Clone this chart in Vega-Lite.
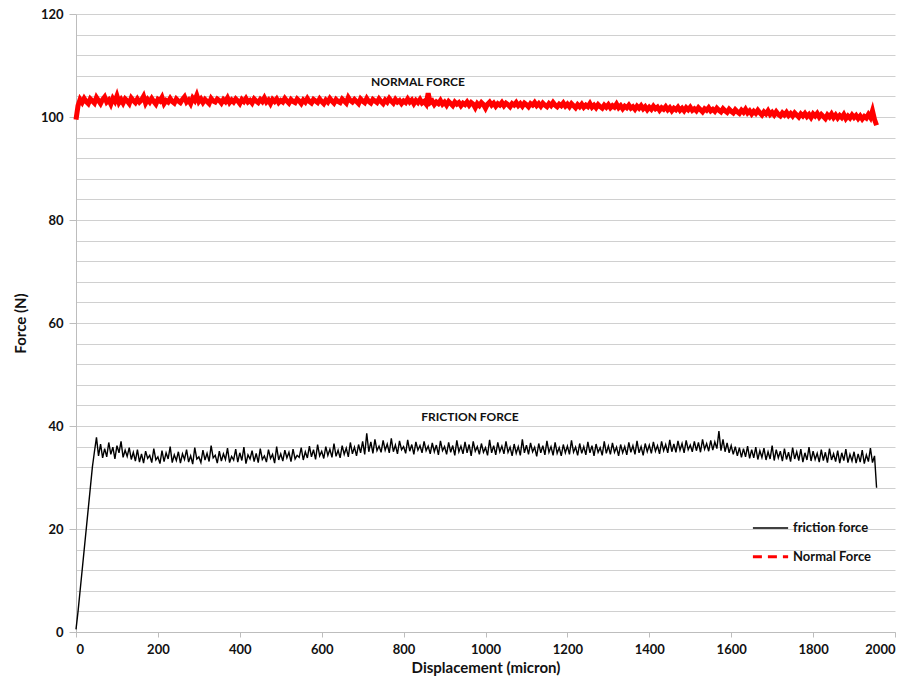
{
 "$schema": "https://vega.github.io/schema/vega-lite/v6.json",
 "width": 819, "height": 618,
 "autosize": {"type": "none"},
 "padding": {"left": 76, "top": 14, "right": 20, "bottom": 60},
 "background": "white",
 "config": {"view": {"stroke": null}, "font": "Lato"},
 "datasets": {
  "series": [
{"x":0,"f":0.5,"n":99.5},{"x":5,"f":4,"n":102.2},{"x":10,"f":8,"n":103.4},{"x":15,"f":12,"n":102.8},{"x":20,"f":16,"n":103.6},{"x":25,"f":20,"n":103.0},{"x":30,"f":24,"n":102.6},{"x":35,"f":28,"n":103.5},{"x":40,"f":32,"n":103.1},{"x":45,"f":35,"n":102.7},
{"x":50,"f":37.8,"n":103.8},{"x":55,"f":34.2,"n":103.2},{"x":60,"f":36.5,"n":102.6},{"x":65,"f":33.8,"n":103.4},{"x":70,"f":35.6,"n":103.9},{"x":75,"f":34.0,"n":102.9},{"x":80,"f":36.8,"n":103.3},{"x":85,"f":34.5,"n":102.5},{"x":90,"f":35.9,"n":103.6},{"x":95,"f":33.6,"n":103.0},
{"x":100,"f":36.2,"n":104.1},{"x":105,"f":34.8,"n":102.8},{"x":110,"f":37.0,"n":103.4},{"x":115,"f":33.9,"n":102.7},{"x":120,"f":35.3,"n":103.5},{"x":125,"f":34.1,"n":103.1},{"x":130,"f":35.8,"n":102.6},{"x":135,"f":33.5,"n":103.7},{"x":140,"f":34.9,"n":103.2},{"x":145,"f":33.2,"n":102.8},
{"x":150,"f":35.4,"n":103.5},{"x":155,"f":33.0,"n":102.9},{"x":160,"f":34.6,"n":103.3},{"x":165,"f":32.8,"n":104.0},{"x":170,"f":35.1,"n":102.7},{"x":175,"f":33.7,"n":103.4},{"x":180,"f":34.3,"n":102.9},{"x":185,"f":32.9,"n":103.6},{"x":190,"f":35.6,"n":103.0},{"x":195,"f":33.4,"n":102.5},
{"x":200,"f":34.0,"n":103.4},{"x":205,"f":32.7,"n":103.1},{"x":210,"f":35.2,"n":103.8},{"x":215,"f":33.1,"n":102.6},{"x":220,"f":34.8,"n":103.2},{"x":225,"f":33.6,"n":102.9},{"x":230,"f":36.0,"n":103.6},{"x":235,"f":32.9,"n":103.0},{"x":240,"f":34.4,"n":102.7},{"x":245,"f":33.3,"n":103.5},
{"x":250,"f":35.0,"n":103.1},{"x":255,"f":32.8,"n":102.8},{"x":260,"f":34.6,"n":103.4},{"x":265,"f":33.5,"n":103.9},{"x":270,"f":35.4,"n":102.9},{"x":275,"f":33.0,"n":103.3},{"x":280,"f":34.2,"n":102.6},{"x":285,"f":32.6,"n":103.7},{"x":290,"f":35.8,"n":103.2},{"x":295,"f":33.6,"n":104.2},
{"x":300,"f":34.0,"n":103.0},{"x":305,"f":32.9,"n":103.5},{"x":310,"f":35.3,"n":102.8},{"x":315,"f":33.4,"n":103.4},{"x":320,"f":34.7,"n":103.0},{"x":325,"f":33.1,"n":102.6},{"x":330,"f":36.2,"n":103.6},{"x":335,"f":33.8,"n":103.1},{"x":340,"f":34.3,"n":102.9},{"x":345,"f":32.8,"n":103.5},
{"x":350,"f":35.1,"n":103.2},{"x":355,"f":33.2,"n":102.7},{"x":360,"f":34.6,"n":103.4},{"x":365,"f":33.5,"n":103.0},{"x":370,"f":35.7,"n":103.7},{"x":375,"f":32.9,"n":102.8},{"x":380,"f":34.1,"n":103.3},{"x":385,"f":33.4,"n":102.9},{"x":390,"f":35.5,"n":103.5},{"x":395,"f":33.0,"n":103.1},
{"x":400,"f":34.8,"n":102.6},{"x":405,"f":33.3,"n":103.4},{"x":410,"f":35.9,"n":103.0},{"x":415,"f":32.7,"n":103.6},{"x":420,"f":34.4,"n":102.9},{"x":425,"f":33.6,"n":103.2},{"x":430,"f":35.2,"n":102.7},{"x":435,"f":33.1,"n":103.5},{"x":440,"f":34.7,"n":103.1},{"x":445,"f":32.9,"n":102.8},
{"x":450,"f":35.6,"n":103.4},{"x":455,"f":33.5,"n":103.0},{"x":460,"f":34.2,"n":103.7},{"x":465,"f":33.0,"n":102.9},{"x":470,"f":35.4,"n":103.3},{"x":475,"f":33.7,"n":102.6},{"x":480,"f":34.5,"n":103.4},{"x":485,"f":32.8,"n":103.0},{"x":490,"f":36.0,"n":103.5},{"x":495,"f":33.4,"n":102.8},
{"x":500,"f":34.6,"n":103.2},{"x":505,"f":33.2,"n":102.9},{"x":510,"f":35.3,"n":103.6},{"x":515,"f":33.8,"n":103.1},{"x":520,"f":34.9,"n":102.7},{"x":525,"f":33.1,"n":103.4},{"x":530,"f":35.5,"n":103.0},{"x":535,"f":33.6,"n":102.8},{"x":540,"f":34.3,"n":103.5},{"x":545,"f":33.9,"n":103.1},
{"x":550,"f":35.8,"n":102.6},{"x":555,"f":33.4,"n":103.3},{"x":560,"f":35.0,"n":102.9},{"x":565,"f":33.8,"n":103.6},{"x":570,"f":36.1,"n":103.0},{"x":575,"f":34.0,"n":102.7},{"x":580,"f":35.4,"n":103.4},{"x":585,"f":33.5,"n":103.1},{"x":590,"f":36.4,"n":102.8},{"x":595,"f":34.2,"n":103.5},
{"x":600,"f":35.1,"n":103.0},{"x":605,"f":33.7,"n":102.6},{"x":610,"f":36.0,"n":103.3},{"x":615,"f":34.3,"n":102.9},{"x":620,"f":35.5,"n":103.6},{"x":625,"f":33.9,"n":103.1},{"x":630,"f":36.6,"n":102.7},{"x":635,"f":34.1,"n":103.4},{"x":640,"f":35.3,"n":103.0},{"x":645,"f":33.8,"n":102.8},
{"x":650,"f":36.2,"n":103.5},{"x":655,"f":34.5,"n":103.1},{"x":660,"f":35.7,"n":102.7},{"x":665,"f":34.0,"n":103.8},{"x":670,"f":36.8,"n":103.2},{"x":675,"f":34.6,"n":102.9},{"x":680,"f":35.9,"n":103.4},{"x":685,"f":34.2,"n":103.0},{"x":690,"f":36.4,"n":102.6},{"x":695,"f":34.8,"n":103.5},
{"x":700,"f":37.0,"n":103.1},{"x":705,"f":34.5,"n":102.8},{"x":710,"f":38.6,"n":103.6},{"x":715,"f":35.0,"n":103.0},{"x":720,"f":36.9,"n":102.7},{"x":725,"f":34.7,"n":103.4},{"x":730,"f":37.4,"n":103.1},{"x":735,"f":35.2,"n":102.8},{"x":740,"f":36.1,"n":103.5},{"x":745,"f":34.9,"n":103.0},
{"x":750,"f":37.2,"n":102.6},{"x":755,"f":35.3,"n":103.3},{"x":760,"f":36.5,"n":102.9},{"x":765,"f":34.8,"n":103.6},{"x":770,"f":37.6,"n":103.1},{"x":775,"f":35.0,"n":102.7},{"x":780,"f":36.3,"n":103.4},{"x":785,"f":34.6,"n":102.9},{"x":790,"f":37.1,"n":103.2},{"x":795,"f":35.4,"n":102.6},
{"x":800,"f":36.0,"n":103.1},{"x":805,"f":34.7,"n":102.8},{"x":810,"f":37.3,"n":103.5},{"x":815,"f":35.1,"n":102.9},{"x":820,"f":36.4,"n":103.3},{"x":825,"f":34.5,"n":102.6},{"x":830,"f":36.9,"n":103.2},{"x":835,"f":35.3,"n":102.8},{"x":840,"f":36.2,"n":103.4},{"x":845,"f":34.8,"n":102.7},
{"x":850,"f":37.0,"n":103.0},{"x":855,"f":35.2,"n":102.5},{"x":860,"f":36.1,"n":104.6},{"x":865,"f":34.6,"n":102.8},{"x":870,"f":36.7,"n":103.1},{"x":875,"f":35.0,"n":102.4},{"x":880,"f":36.3,"n":102.9},{"x":885,"f":34.4,"n":102.6},{"x":890,"f":37.1,"n":103.2},{"x":895,"f":35.2,"n":102.5},
{"x":900,"f":36.0,"n":102.9},{"x":905,"f":34.5,"n":102.3},{"x":910,"f":36.8,"n":103.0},{"x":915,"f":34.9,"n":102.6},{"x":920,"f":36.2,"n":102.2},{"x":925,"f":34.3,"n":102.9},{"x":930,"f":37.2,"n":102.5},{"x":935,"f":35.0,"n":102.8},{"x":940,"f":36.1,"n":102.2},{"x":945,"f":34.6,"n":102.7},
{"x":950,"f":36.9,"n":102.4},{"x":955,"f":34.8,"n":102.9},{"x":960,"f":36.4,"n":102.3},{"x":965,"f":34.2,"n":102.8},{"x":970,"f":37.0,"n":102.5},{"x":975,"f":35.1,"n":101.8},{"x":980,"f":36.0,"n":102.6},{"x":985,"f":34.5,"n":102.2},{"x":990,"f":36.6,"n":102.8},{"x":995,"f":34.9,"n":102.4},
{"x":1000,"f":35.8,"n":101.7},{"x":1005,"f":34.3,"n":102.5},{"x":1010,"f":37.3,"n":102.9},{"x":1015,"f":34.8,"n":102.3},{"x":1020,"f":36.2,"n":102.7},{"x":1025,"f":34.4,"n":102.1},{"x":1030,"f":36.8,"n":102.6},{"x":1035,"f":35.0,"n":102.3},{"x":1040,"f":36.1,"n":102.8},{"x":1045,"f":34.6,"n":102.2},
{"x":1050,"f":37.0,"n":102.7},{"x":1055,"f":34.9,"n":102.4},{"x":1060,"f":35.9,"n":102.0},{"x":1065,"f":34.2,"n":102.6},{"x":1070,"f":36.5,"n":102.3},{"x":1075,"f":34.7,"n":102.8},{"x":1080,"f":36.0,"n":102.2},{"x":1085,"f":34.3,"n":102.6},{"x":1090,"f":37.4,"n":102.1},{"x":1095,"f":34.8,"n":102.7},
{"x":1100,"f":36.3,"n":102.4},{"x":1105,"f":34.5,"n":102.0},{"x":1110,"f":36.7,"n":102.6},{"x":1115,"f":35.0,"n":102.3},{"x":1120,"f":35.9,"n":102.8},{"x":1125,"f":34.1,"n":102.2},{"x":1130,"f":36.6,"n":102.6},{"x":1135,"f":34.8,"n":102.1},{"x":1140,"f":36.2,"n":102.7},{"x":1145,"f":34.4,"n":102.3},
{"x":1150,"f":37.1,"n":102.0},{"x":1155,"f":34.9,"n":102.6},{"x":1160,"f":36.0,"n":102.2},{"x":1165,"f":34.3,"n":102.8},{"x":1170,"f":36.8,"n":102.3},{"x":1175,"f":34.7,"n":102.0},{"x":1180,"f":35.8,"n":102.5},{"x":1185,"f":34.2,"n":102.2},{"x":1190,"f":36.4,"n":102.7},{"x":1195,"f":34.8,"n":102.1},
{"x":1200,"f":36.1,"n":102.5},{"x":1205,"f":34.5,"n":102.0},{"x":1210,"f":37.2,"n":102.6},{"x":1215,"f":34.9,"n":102.2},{"x":1220,"f":35.9,"n":101.8},{"x":1225,"f":34.3,"n":102.4},{"x":1230,"f":36.6,"n":102.0},{"x":1235,"f":34.7,"n":102.5},{"x":1240,"f":36.0,"n":101.9},{"x":1245,"f":34.4,"n":102.3},
{"x":1250,"f":36.9,"n":102.0},{"x":1255,"f":34.8,"n":102.6},{"x":1260,"f":36.2,"n":101.9},{"x":1265,"f":34.2,"n":102.3},{"x":1270,"f":36.5,"n":101.8},{"x":1275,"f":34.9,"n":102.4},{"x":1280,"f":35.8,"n":102.0},{"x":1285,"f":34.3,"n":101.7},{"x":1290,"f":37.0,"n":102.3},{"x":1295,"f":34.7,"n":101.9},
{"x":1300,"f":36.1,"n":102.4},{"x":1305,"f":34.5,"n":101.8},{"x":1310,"f":36.7,"n":102.2},{"x":1315,"f":34.9,"n":101.9},{"x":1320,"f":35.9,"n":102.5},{"x":1325,"f":34.2,"n":101.8},{"x":1330,"f":36.4,"n":102.2},{"x":1335,"f":34.8,"n":101.6},{"x":1340,"f":36.0,"n":102.1},{"x":1345,"f":34.4,"n":101.8},
{"x":1350,"f":36.8,"n":102.3},{"x":1355,"f":34.9,"n":101.7},{"x":1360,"f":36.2,"n":102.0},{"x":1365,"f":34.5,"n":101.5},{"x":1370,"f":37.1,"n":102.1},{"x":1375,"f":34.8,"n":101.7},{"x":1380,"f":36.0,"n":102.2},{"x":1385,"f":34.3,"n":101.6},{"x":1390,"f":36.6,"n":102.0},{"x":1395,"f":35.0,"n":101.4},
{"x":1400,"f":36.3,"n":101.9},{"x":1405,"f":34.7,"n":101.5},{"x":1410,"f":36.9,"n":102.1},{"x":1415,"f":35.1,"n":101.6},{"x":1420,"f":36.2,"n":101.9},{"x":1425,"f":34.6,"n":101.3},{"x":1430,"f":37.0,"n":101.8},{"x":1435,"f":35.2,"n":101.5},{"x":1440,"f":36.4,"n":102.0},{"x":1445,"f":34.8,"n":101.4},
{"x":1450,"f":37.3,"n":101.8},{"x":1455,"f":35.0,"n":101.2},{"x":1460,"f":36.5,"n":101.7},{"x":1465,"f":34.9,"n":101.4},{"x":1470,"f":37.1,"n":101.9},{"x":1475,"f":35.3,"n":101.3},{"x":1480,"f":36.6,"n":101.7},{"x":1485,"f":34.8,"n":101.2},{"x":1490,"f":37.2,"n":101.8},{"x":1495,"f":35.4,"n":101.4},
{"x":1500,"f":36.3,"n":101.9},{"x":1505,"f":35.0,"n":101.3},{"x":1510,"f":37.0,"n":101.6},{"x":1515,"f":35.2,"n":101.2},{"x":1520,"f":36.8,"n":101.8},{"x":1525,"f":34.9,"n":101.4},{"x":1530,"f":37.4,"n":101.0},{"x":1535,"f":35.5,"n":101.6},{"x":1540,"f":36.6,"n":101.3},{"x":1545,"f":35.1,"n":101.8},
{"x":1550,"f":37.2,"n":101.2},{"x":1555,"f":35.3,"n":101.5},{"x":1560,"f":36.9,"n":101.1},{"x":1565,"f":35.6,"n":101.7},{"x":1570,"f":39.0,"n":101.3},{"x":1575,"f":35.2,"n":101.0},{"x":1580,"f":37.4,"n":101.6},{"x":1585,"f":35.0,"n":101.2},{"x":1590,"f":36.7,"n":100.9},{"x":1595,"f":34.8,"n":101.5},
{"x":1600,"f":36.2,"n":101.1},{"x":1605,"f":34.5,"n":100.8},{"x":1610,"f":36.0,"n":101.4},{"x":1615,"f":34.2,"n":101.0},{"x":1620,"f":35.8,"n":100.7},{"x":1625,"f":33.9,"n":101.3},{"x":1630,"f":35.6,"n":100.9},{"x":1635,"f":34.0,"n":101.5},{"x":1640,"f":36.1,"n":100.8},{"x":1645,"f":33.7,"n":101.2},
{"x":1650,"f":35.4,"n":100.6},{"x":1655,"f":33.8,"n":101.1},{"x":1660,"f":35.9,"n":100.7},{"x":1665,"f":33.5,"n":101.3},{"x":1670,"f":35.2,"n":100.8},{"x":1675,"f":33.9,"n":100.4},{"x":1680,"f":35.7,"n":101.0},{"x":1685,"f":33.4,"n":100.6},{"x":1690,"f":35.0,"n":101.2},{"x":1695,"f":33.6,"n":100.5},
{"x":1700,"f":36.2,"n":100.9},{"x":1705,"f":33.3,"n":100.4},{"x":1710,"f":35.4,"n":101.0},{"x":1715,"f":33.8,"n":100.5},{"x":1720,"f":35.1,"n":100.2},{"x":1725,"f":33.2,"n":100.8},{"x":1730,"f":35.6,"n":100.4},{"x":1735,"f":33.5,"n":100.9},{"x":1740,"f":34.9,"n":100.3},{"x":1745,"f":33.1,"n":100.7},
{"x":1750,"f":35.8,"n":100.2},{"x":1755,"f":33.6,"n":100.8},{"x":1760,"f":35.0,"n":100.4},{"x":1765,"f":33.3,"n":100.0},{"x":1770,"f":35.5,"n":100.6},{"x":1775,"f":33.0,"n":100.2},{"x":1780,"f":34.8,"n":100.7},{"x":1785,"f":33.4,"n":100.1},{"x":1790,"f":35.9,"n":100.5},{"x":1795,"f":33.2,"n":99.9},
{"x":1800,"f":35.1,"n":100.6},{"x":1805,"f":33.5,"n":100.2},{"x":1810,"f":34.7,"n":100.7},{"x":1815,"f":33.0,"n":100.0},{"x":1820,"f":35.4,"n":100.5},{"x":1825,"f":33.3,"n":100.1},{"x":1830,"f":34.9,"n":99.7},{"x":1835,"f":32.9,"n":100.4},{"x":1840,"f":35.6,"n":100.0},{"x":1845,"f":33.4,"n":100.6},
{"x":1850,"f":34.6,"n":99.9},{"x":1855,"f":33.1,"n":100.4},{"x":1860,"f":35.2,"n":99.8},{"x":1865,"f":32.8,"n":100.3},{"x":1870,"f":34.8,"n":99.9},{"x":1875,"f":33.3,"n":100.5},{"x":1880,"f":35.5,"n":99.7},{"x":1885,"f":32.9,"n":100.2},{"x":1890,"f":34.5,"n":99.8},{"x":1895,"f":33.2,"n":100.4},
{"x":1900,"f":35.0,"n":99.9},{"x":1905,"f":32.8,"n":100.3},{"x":1910,"f":34.6,"n":99.7},{"x":1915,"f":33.0,"n":100.2},{"x":1920,"f":35.3,"n":99.6},{"x":1925,"f":32.7,"n":100.1},{"x":1930,"f":34.4,"n":99.8},{"x":1935,"f":33.1,"n":100.5},{"x":1940,"f":35.7,"n":99.9},{"x":1945,"f":32.9,"n":101.2},
{"x":1950,"f":34.2,"n":99.5},{"x":1955,"f":28.0,"n":98.4}
  ],
  "notes": [
   {"x": 835, "y": 106.8, "t": "NORMAL FORCE"},
   {"x": 962, "y": 41.7, "t": "FRICTION FORCE"}
  ],
  "legend": [
   {"x": 1653, "x2": 1739, "tx": 1751, "y": 20.2, "s": "friction force"},
   {"x": 1653, "x2": 1739, "tx": 1751, "y": 14.6, "s": "Normal Force"}
  ]
 },
 "layer": [
  {
   "data": {"name": "series"},
   "mark": {"type": "line", "color": "#ff0000", "strokeWidth": 5, "interpolate": "linear"},
   "encoding": {
    "x": {"field": "x", "type": "quantitative",
     "scale": {"domain": [0, 2000], "nice": false},
     "axis": {"title": "Displacement (micron)", "values": [0,200,400,600,800,1000,1200,1400,1600,1800,2000], "format": "d", "tickCount": 20,
      "grid": false, "labelOverlap": false, "labelFont": "Lato", "labelFontWeight": "bold", "labelFontSize": 13, "labelColor": "#111",
      "labelPadding": 6, "tickSize": 5, "tickColor": "#bdbdbd", "domainColor": "#bdbdbd",
      "titleFont": "Lato", "titleFontWeight": "bold", "titleFontSize": 15, "titleColor": "#111", "titlePadding": 4}},
    "y": {"field": "n", "type": "quantitative",
     "scale": {"domain": [0, 120], "nice": false},
     "axis": {"title": "Force (N)", "values": [0,4,8,12,16,20,24,28,32,36,40,44,48,52,56,60,64,68,72,76,80,84,88,92,96,100,104,108,112,116,120], "tickCount": 40,
      "labelExpr": "datum.value % 20 === 0 ? datum.label : ''", "labelOverlap": false, "labelBound": false,
      "tickOpacity": {"condition": {"test": "datum.value % 20 === 0", "value": 1}, "value": 0},
      "grid": true, "gridColor": "#d0d0d0", "gridWidth": 1,
      "labelFont": "Lato", "labelFontWeight": "bold", "labelFontSize": 13, "labelColor": "#111",
      "labelPadding": 6, "tickSize": 7, "tickColor": "#bdbdbd", "domainColor": "#bdbdbd",
      "titleFont": "Lato", "titleFontWeight": "bold", "titleFontSize": 15, "titleColor": "#111", "titlePadding": 12}}
   }
  },
  {
   "data": {"name": "series"},
   "mark": {"type": "line", "color": "#000000", "strokeWidth": 1.4},
   "encoding": {
    "x": {"field": "x", "type": "quantitative"},
    "y": {"field": "f", "type": "quantitative"}
   }
  },
  {
   "data": {"name": "notes"},
   "mark": {"type": "text", "font": "Lato", "fontWeight": "bold", "fontSize": 12, "color": "#111", "align": "center", "baseline": "middle"},
   "encoding": {
    "x": {"field": "x", "type": "quantitative"},
    "y": {"field": "y", "type": "quantitative"},
    "text": {"field": "t"}
   }
  },
  {
   "data": {"name": "legend"},
   "mark": {"type": "rule"},
   "encoding": {
    "x": {"field": "x", "type": "quantitative"},
    "x2": {"field": "x2"},
    "y": {"field": "y", "type": "quantitative"},
    "color": {"field": "s", "type": "nominal", "scale": {"domain": ["friction force", "Normal Force"], "range": ["#000000", "#ff0000"]}, "legend": null},
    "strokeDash": {"field": "s", "type": "nominal", "scale": {"domain": ["friction force", "Normal Force"], "range": [[1, 0], [9, 6]]}, "legend": null},
    "strokeWidth": {"field": "s", "type": "nominal", "scale": {"domain": ["friction force", "Normal Force"], "range": [1.5, 3]}, "legend": null}
   }
  },
  {
   "data": {"name": "legend"},
   "mark": {"type": "text", "font": "Lato", "fontWeight": "bold", "fontSize": 13, "color": "#111", "align": "left", "baseline": "middle"},
   "encoding": {
    "x": {"field": "tx", "type": "quantitative"},
    "y": {"field": "y", "type": "quantitative"},
    "text": {"field": "s"}
   }
  }
 ]
}
